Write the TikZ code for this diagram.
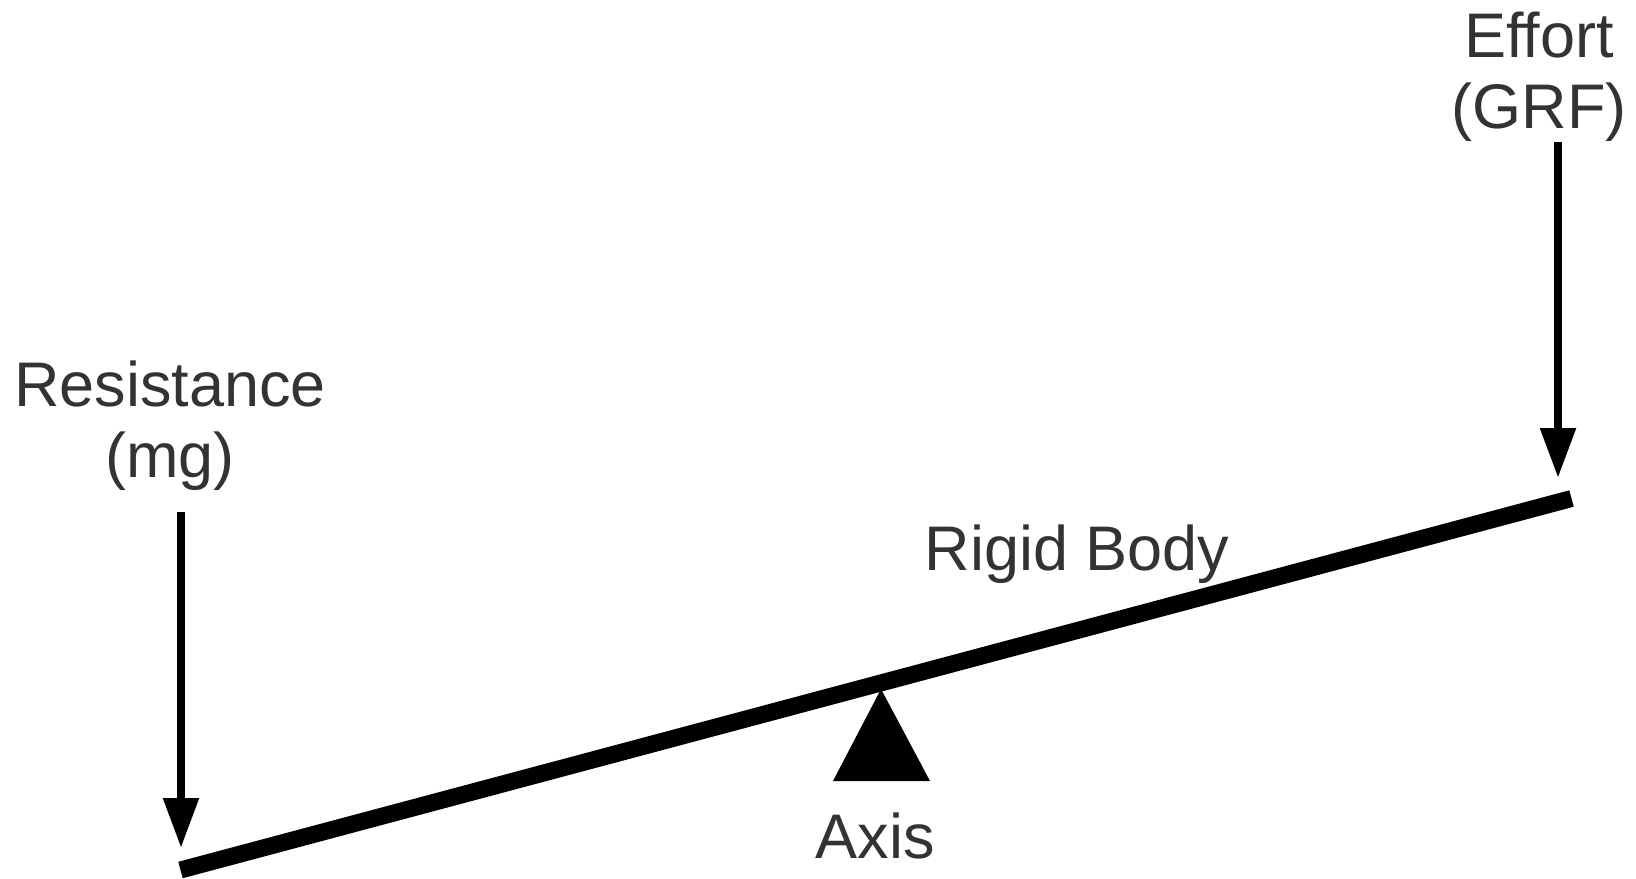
\documentclass[tikz,border=0pt]{standalone}
\usepackage{fontspec}
\setmainfont{Liberation Sans}
\usetikzlibrary{arrows.meta}
\definecolor{labelgray}{HTML}{333333}
\tikzset{>={Triangle[length=25pt,width=17pt]}}
\tikzset{lbl/.style={text=labelgray,font=\fontsize{31.5}{35.5}\selectfont,align=center,anchor=base,inner sep=0pt}}

\begin{document}
\begin{tikzpicture}[x=0.5pt,y=-0.5pt]
                \useasboundingbox (0,0) rectangle (1636,878);
                \node[lbl] (effort) at (1539,128) {Effort\\(GRF)};
                \node[lbl] (resist) at (170,477) {Resistance\\(mg)};
                \node[lbl] (body) at (1077,570) {Rigid Body};
                \node[lbl] (axis) at (875,858) {Axis};
                \coordinate (efftop) at (1558,142);
                \coordinate (effend) at (1558,478);
                \coordinate (restop) at (181,512);
                \coordinate (resend) at (181,848);
                \coordinate (left) at (180.5,870);
                \coordinate (right) at (1571.5,498.5);
                \coordinate (apex) at (881,689);
                \draw[line width=8.5pt] (left) -- (right);
                \fill (apex) -- (833,781) -- (930,781) -- cycle;
                \draw[->,line width=4.25pt] (efftop) -- (effend);
                \draw[->,line width=4.25pt] (restop) -- (resend);
            \end{tikzpicture}
\end{document}
